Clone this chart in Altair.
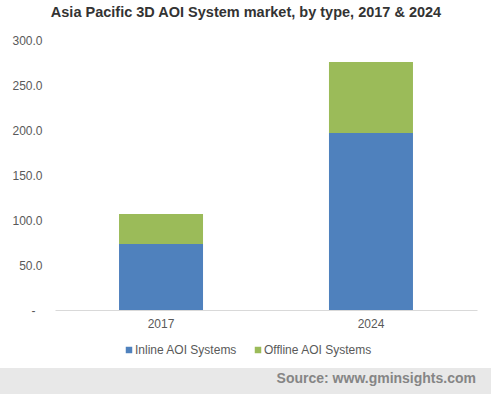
import altair as alt
import pandas as pd

years = ["2017", "2024"]
types = ["Inline AOI Systems", "Offline AOI Systems"]
inline_vals = [73.3, 196.7]
offline_vals = [33.4, 78.9]
y_ticks = [0, 50, 100, 150, 200, 250, 300]
colors = ["#4f81bd", "#9bbb59"]

rows = []
for i, yr in enumerate(years):
    rows.append({"year": yr, "type": types[0], "value": inline_vals[i], "ord": 0})
    rows.append({"year": yr, "type": types[1], "value": offline_vals[i], "ord": 1})
df = pd.DataFrame(rows)

FONT = "Liberation Sans"

bars = alt.Chart(df).mark_bar(size=84).encode(
    x=alt.X("year:N", title=None, sort=years,
            scale=alt.Scale(paddingInner=0.6, paddingOuter=0.305),
            axis=alt.Axis(labelAngle=0, ticks=False, domainColor="#d9d9d9",
                          labelColor="#595959", labelFontSize=12, labelFont=FONT,
                          labelPadding=8, grid=False)),
    y=alt.Y("value:Q", title=None, stack="zero",
            scale=alt.Scale(domain=[0, 300], nice=False),
            axis=alt.Axis(values=y_ticks, ticks=False, domain=False, grid=False,
                          labelExpr="datum.value == 0 ? '-' : format(datum.value, '.1f')",
                          labelColor="#595959", labelFontSize=12, labelFont=FONT,
                          labelPadding={"condition": {"test": "datum.value == 0", "value": 20}, "value": 13})),
    color=alt.Color("type:N", sort=types,
                    scale=alt.Scale(domain=types, range=colors),
                    legend=alt.Legend(title=None, orient="none", direction="horizontal",
                                      legendX=68, legendY=304, symbolType="square",
                                      symbolSize=42, symbolStrokeWidth=0,
                                      labelFontSize=12, labelFont=FONT, labelColor="#595959",
                                      labelOffset=0, columnPadding=14)),
    order=alt.Order("ord:Q"),
)

foot = pd.DataFrame([{"src": "Source: www.gminsights.com"}])
band = alt.Chart(foot).mark_rect(color="#e8e8e8").encode(
    x=alt.value(-55), x2=alt.value(436), y=alt.value(328), y2=alt.value(354)
)
src = alt.Chart(foot).mark_text(align="right", baseline="middle", font=FONT,
                                fontWeight="bold", fontSize=14, color="#858585").encode(
    x=alt.value(421), y=alt.value(339), text="src:N"
)

chart = alt.layer(bars, band, src).properties(
    width=422, height=270,
    padding={"left": 55, "top": 40, "right": 14, "bottom": 84},
    autosize=alt.AutoSizeParams(type="none"),
    title=alt.TitleParams("Asia Pacific 3D AOI System market, by type, 2017 & 2024",
                          font=FONT, fontSize=14.5, fontWeight="bold", color="#333333",
                          anchor="middle", dx=-20, offset=14),
).configure(background="white").configure_view(stroke="transparent", strokeWidth=0)

chart.save("out.html", embed_options={"renderer": "svg", "actions": False})
